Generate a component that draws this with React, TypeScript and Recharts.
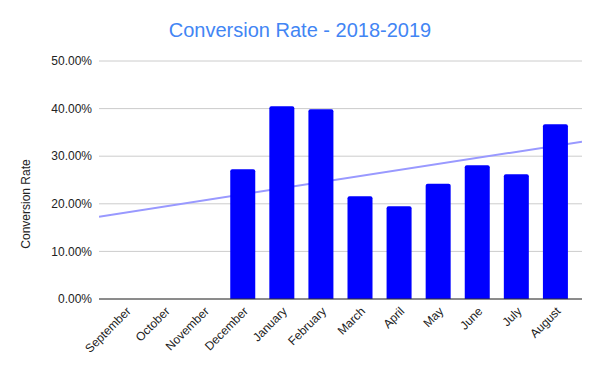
import React from 'react';
import { ComposedChart, Bar, Line, XAxis, YAxis, CartesianGrid } from 'recharts';

const months = ['September', 'October', 'November', 'December', 'January', 'February', 'March', 'April', 'May', 'June', 'July', 'August'];
const conversionRate: (number | null)[] = [null, null, null, 27.25, 40.5, 39.85, 21.6, 19.5, 24.2, 28.1, 26.2, 36.7];
const yTicks = [0, 10, 20, 30, 40, 50];
const trendPos = [0, 1];
const trendValues = [17.3, 33.05];

const data = months.map((m, i) => ({ month: m, rate: conversionRate[i] }));
const trendData = trendPos.map((t, i) => ({ t, trend: trendValues[i] }));

const FONT = '"Liberation Sans", Arial, sans-serif';

const XTick = (props: any) => {
  const { x, y, payload } = props;
  return (
    <g transform={`translate(${x + 6},${y + 5})`}>
      <text x={0} y={0} textAnchor="end" fill="#222" fontSize={12} fontFamily={FONT} transform="rotate(-45)">
        {payload.value}
      </text>
    </g>
  );
};

export default function App() {
  return (
    <div style={{ position: 'absolute', left: 0, top: 0, width: 600, height: 371, background: '#fff' }}>
      <ComposedChart width={600} height={371} data={data} margin={{ top: 61, right: 18, bottom: 0, left: 0 }}>
        <CartesianGrid vertical={false} stroke="#cccccc" />
        <XAxis
          dataKey="month"
          height={72}
          interval={0}
          padding={{ left: 7, right: 7 }}
          tickLine={false}
          axisLine={{ stroke: '#333333' }}
          tick={<XTick />}
        />
        <XAxis xAxisId="trend" dataKey="t" type="number" domain={[0, 1]} allowDataOverflow hide />
        <YAxis
          width={99}
          domain={[0, 50]}
          ticks={yTicks}
          axisLine={false}
          tickLine={false}
          tickMargin={1}
          tick={{ fill: '#222', fontSize: 12, fontFamily: FONT }}
          tickFormatter={(v: number) => `${v.toFixed(2)}%`}
        />
        <Line
          xAxisId="trend"
          data={trendData}
          dataKey="trend"
          stroke="#9999ff"
          strokeWidth={2}
          dot={false}
          activeDot={false}
          isAnimationActive={false}
          zIndex={250}
        />
        <Bar dataKey="rate" fill="#0000ff" barSize={25} radius={[2, 2, 0, 0]} isAnimationActive={false} />
      </ComposedChart>
      <svg width={600} height={371} style={{ position: 'absolute', left: 0, top: 0, pointerEvents: 'none' }}>
        <text x={300} y={37} textAnchor="middle" fill="#4285f4" fontSize={20} fontFamily={FONT}>
          Conversion Rate - 2018-2019
        </text>
        <text
          x={0}
          y={0}
          transform="translate(30,204) rotate(-90)"
          textAnchor="middle"
          fill="#222"
          fontSize={12}
          fontFamily={FONT}
        >
          Conversion Rate
        </text>
      </svg>
    </div>
  );
}
